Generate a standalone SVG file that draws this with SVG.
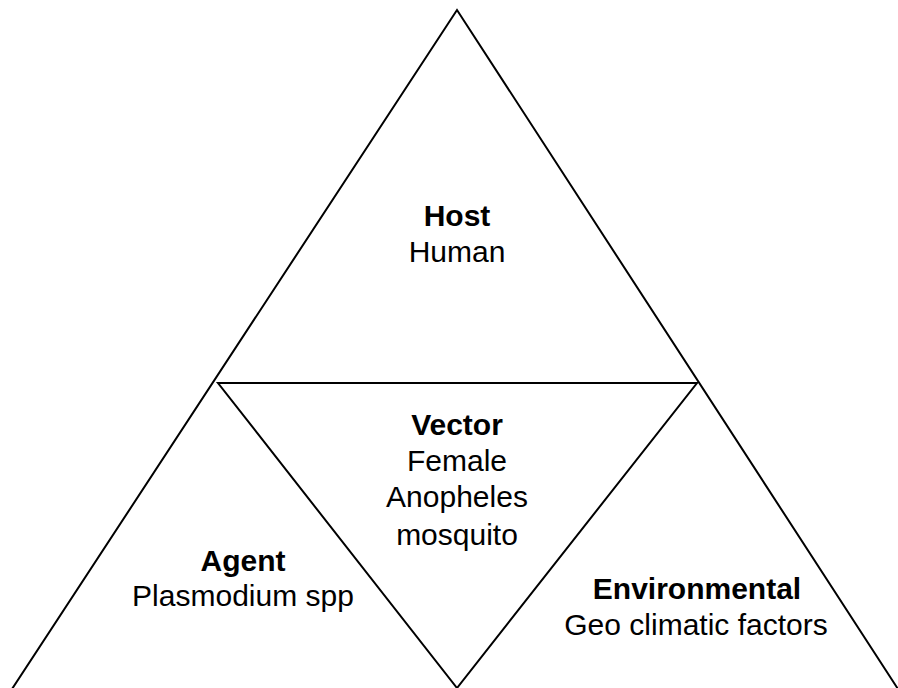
<svg xmlns="http://www.w3.org/2000/svg" width="898" height="688" viewBox="0 0 898 688">
  <style>
    .edge { fill: none; stroke: #000; stroke-width: 2; stroke-linejoin: miter; }
    text { font-family: "Liberation Sans", Arial, sans-serif; font-size: 30px; fill: #000; text-anchor: middle; }
    .title { font-weight: bold; }
  </style>
  <rect width="898" height="688" fill="#fff"/>
  <g id="connectors">
    <!-- outer triangle -->
    <polyline class="edge" points="12,689 457,10 898,689"/>
    <!-- inner inverted triangle -->
    <polygon class="edge" points="218,383 697,383 457,688"/>
  </g>
  <g id="host">
    <text class="title" x="457" y="226">Host</text>
    <text x="457" y="262">Human</text>
  </g>
  <g id="vector">
    <text class="title" x="457" y="435">Vector</text>
    <text x="457" y="471">Female</text>
    <text x="457" y="507">Anopheles</text>
    <text x="457" y="545">mosquito</text>
  </g>
  <g id="agent">
    <text class="title" x="243" y="571">Agent</text>
    <text x="243" y="606">Plasmodium spp</text>
  </g>
  <g id="environmental">
    <text class="title" x="697" y="599">Environmental</text>
    <text x="696" y="635">Geo climatic factors</text>
  </g>
</svg>
